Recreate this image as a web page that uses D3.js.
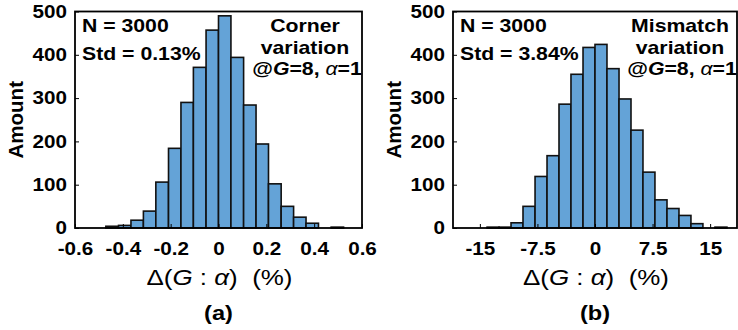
<!DOCTYPE html>
<html>
<head>
<meta charset="utf-8">
<script src="https://cdn.jsdelivr.net/npm/d3@7/dist/d3.min.js"></script>
<style>
  html, body { margin: 0; padding: 0; background: #fff; }
  svg { display: block; }
  text { font-family: "Liberation Sans", Arial, sans-serif; fill: #000; }
</style>
</head>
<body>
<svg id="chart" width="738" height="330"></svg>
<script>
// ---------- data ----------
const yTicks = [0, 100, 200, 300, 400, 500];

const leftXTicks = [-0.6, -0.4, -0.2, 0, 0.2, 0.4, 0.6];
const leftXTickLabels = ["-0.6", "-0.4", "-0.2", "0", "0.2", "0.4", "0.6"];
const leftEdges = [-0.471, -0.418, -0.366, -0.314, -0.262, -0.209, -0.157, -0.105, -0.052, 0,
                   0.052, 0.105, 0.157, 0.209, 0.262, 0.314, 0.366, 0.418, 0.471, 0.523];
const leftCounts = [4, 6, 18, 39, 106, 184, 290, 371, 457, 490, 394, 284, 194, 102, 50, 25, 11, 0, 2];
const leftStats = ["N = 3000", "Std = 0.13%"];
const leftNote = ["Corner", "variation"];

const rightXTicks = [-15, -7.5, 0, 7.5, 15];
const rightXTickLabels = ["-15", "-7.5", "0", "7.5", "15"];
const rightEdges = [-14.06, -12.5, -10.94, -9.38, -7.81, -6.25, -4.69, -3.13, -1.56, 0,
                    1.56, 3.13, 4.69, 6.25, 7.81, 9.38, 10.94, 12.5, 14.06, 15.63, 17.19];
const rightCounts = [2, 2, 12, 50, 119, 167, 286, 355, 417, 424, 368, 298, 226, 129, 65, 45, 29, 10, 0, 2];
const rightStats = ["N = 3000", "Std = 3.84%"];
const rightNote = ["Mismatch", "variation"];

const yLabel = "Amount";
const panelLabels = ["(a)", "(b)"];

// ---------- layout ----------
const SX = 1.18; // horizontal text stretch of the original figure
const svg = d3.select("#chart");
const BAR_FILL = "rgb(100,163,215)";

const panels = [
  { x0: 75, x1: 362, domain: [-0.6, 0.6], ticks: leftXTicks, tickLabels: leftXTickLabels,
    edges: leftEdges, counts: leftCounts, stats: leftStats, note: leftNote,
    noteX: 305, label: panelLabels[0] },
  { x0: 453, x1: 737, domain: [-18.5, 18.5], ticks: rightXTicks, tickLabels: rightXTickLabels,
    edges: rightEdges, counts: rightCounts, stats: rightStats, note: rightNote,
    noteX: 680, label: panelLabels[1] }
];
const yTop = 11.5, yBot = 228;

function stretchedText(g, x, y, anchor, size, weight) {
  return g.append("text")
    .attr("transform", `translate(${x},${y}) scale(${SX},1)`)
    .attr("text-anchor", anchor)
    .attr("font-size", size)
    .attr("font-weight", weight);
}

panels.forEach(p => {
  const g = svg.append("g");
  const x = d3.scaleLinear().domain(p.domain).range([p.x0, p.x1]);
  const y = d3.scaleLinear().domain([0, 500]).range([yBot, yTop]);

  // bars
  const bins = p.counts.map((c, i) => ({ a: p.edges[i], b: p.edges[i + 1], c }));
  g.selectAll("rect.bar").data(bins.filter(d => d.c > 0)).join("rect")
    .attr("class", "bar")
    .attr("x", d => x(d.a))
    .attr("width", d => x(d.b) - x(d.a))
    .attr("y", d => y(d.c))
    .attr("height", d => y(0) - y(d.c))
    .attr("fill", BAR_FILL)
    .attr("stroke", "#111")
    .attr("stroke-width", 1.6);

  // y axis
  const ya = g.append("g").attr("transform", `translate(${p.x0},0)`)
    .call(d3.axisLeft(y).tickValues(yTicks).tickSizeInner(-4).tickSizeOuter(0).tickPadding(8));
  ya.select(".domain").remove();
  ya.selectAll(".tick line").attr("stroke", "#000").attr("stroke-width", 1);
  ya.selectAll(".tick text")
    .attr("font-size", 17.5).attr("font-weight", "bold")
    .attr("font-family", "Liberation Sans, Arial, sans-serif")
    .attr("x", -8 / SX)
    .attr("transform", `scale(${SX},1)`);

  // x axis
  const xa = g.append("g").attr("transform", `translate(0,${yBot})`)
    .call(d3.axisBottom(x).tickValues(p.ticks).tickFormat((d, i) => p.tickLabels[i])
      .tickSizeInner(-4).tickSizeOuter(0).tickPadding(15));
  xa.select(".domain").remove();
  xa.selectAll(".tick line").attr("stroke", "#000").attr("stroke-width", 1);
  xa.selectAll(".tick text")
    .attr("font-size", 17.5).attr("font-weight", "bold")
    .attr("font-family", "Liberation Sans, Arial, sans-serif")
    .attr("transform", `scale(${SX},1)`)
    .attr("dy", null).attr("y", 27);

  // frame
  g.append("rect")
    .attr("x", p.x0).attr("y", yTop)
    .attr("width", p.x1 - p.x0).attr("height", yBot - yTop)
    .attr("fill", "none").attr("stroke", "#000").attr("stroke-width", 1.8);

  // y label
  g.append("text")
    .attr("transform", `translate(${p.x0 - 59.5},${(yTop + yBot) / 2}) rotate(-90)`)
    .attr("text-anchor", "middle")
    .attr("dy", "0.35em")
    .attr("font-size", 20.5).attr("font-weight", "bold")
    .text(yLabel);

  // stats
  stretchedText(g, p.x0 + 7, 32, "start", 18, "bold").text(p.stats[0]);
  stretchedText(g, p.x0 + 7, 60, "start", 18, "bold").text(p.stats[1]);

  // note
  stretchedText(g, p.noteX, 32, "middle", 18, "bold").text(p.note[0]);
  stretchedText(g, p.noteX, 53.5, "middle", 18, "bold").text(p.note[1]);
  const n3 = stretchedText(g, p.noteX + 2, 74.5, "middle", 18, "bold");
  n3.append("tspan").text("@");
  n3.append("tspan").attr("font-style", "italic").text("G");
  n3.append("tspan").text("=8, ");
  n3.append("tspan").attr("font-style", "italic").attr("font-weight", "normal").text("α");
  n3.append("tspan").text("=1");

  // x title
  const cx = (p.x0 + p.x1) / 2;
  const t = stretchedText(g, cx + 1, 285, "middle", 22, "normal").style("white-space", "pre");
  t.append("tspan").text("Δ(");
  t.append("tspan").attr("font-style", "italic").text("G");
  t.append("tspan").text(" : ");
  t.append("tspan").attr("font-style", "italic").text("α");
  t.append("tspan").text(")  (%)");

  // panel label
  stretchedText(g, cx, 320, "middle", 20, "bold").text(p.label);
});
</script>
</body>
</html>
